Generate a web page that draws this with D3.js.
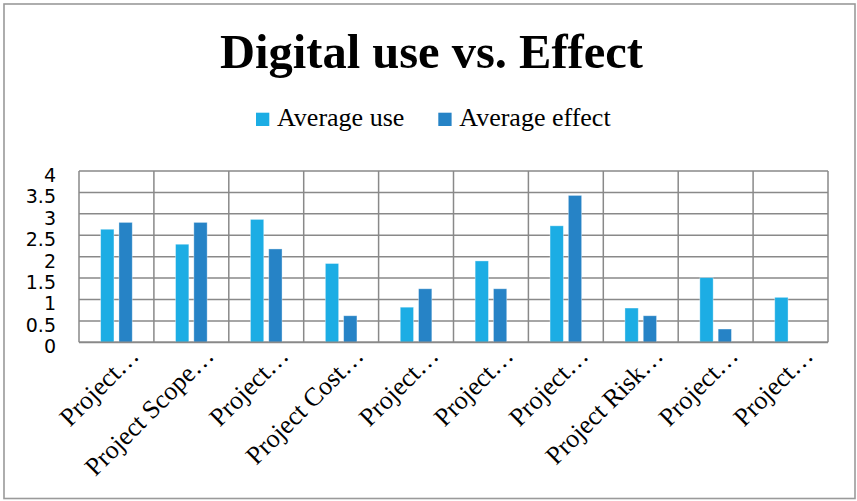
<!DOCTYPE html>
<html>
<head>
<meta charset="utf-8">
<script src="https://cdn.jsdelivr.net/npm/d3@7"></script>
<style>
  html, body { margin: 0; padding: 0; background: #fff; }
  svg { display: block; }
</style>
</head>
<body>
<svg id="chart" width="857" height="501"></svg>
<script>
// Category labels along the x axis (as shown, truncated)
const categories = [
  "Project…", "Project Scope…", "Project…", "Project Cost…", "Project…",
  "Project…", "Project…", "Project Risk…", "Project…", "Project…"
];
// Series
const seriesNames = ["Average use", "Average effect"];
const averageUse    = [2.64, 2.29, 2.87, 1.84, 0.82, 1.90, 2.72, 0.80, 1.51, 1.05];
const averageEffect = [2.80, 2.80, 2.18, 0.62, 1.25, 1.25, 3.43, 0.62, 0.31, 0];
const seriesColors  = ["#1CADE4", "#2683C6"];
// Y axis ticks
const yTicks = [0, 0.5, 1, 1.5, 2, 2.5, 3, 3.5, 4];
const yTickLabels = ["0", "0.5", "1", "1.5", "2", "2.5", "3", "3.5", "4"];

const W = 857, H = 501;
const plot = { left: 79, right: 828, top: 171, bottom: 342.3 };

const svg = d3.select("#chart");

// chart frame
svg.append("rect")
  .attr("x", 4).attr("y", 4).attr("width", 851).attr("height", 494.5)
  .attr("fill", "#fff").attr("stroke", "#9a9a9a").attr("stroke-width", 1.6);

// title
svg.append("text")
  .attr("x", 431.5).attr("y", 68)
  .attr("text-anchor", "middle")
  .attr("font-family", "'Liberation Serif', 'Times New Roman', serif")
  .attr("font-weight", "bold")
  .attr("font-size", 48.5)
  .attr("fill", "#000")
  .text("Digital use vs. Effect");

// legend
const legendItems = [
  { name: seriesNames[0], color: seriesColors[0], x: 256 },
  { name: seriesNames[1], color: seriesColors[1], x: 438.3 }
];
const lg = svg.append("g");
legendItems.forEach(it => {
  lg.append("rect")
    .attr("x", it.x).attr("y", 112.7).attr("width", 13.3).attr("height", 13.3)
    .attr("fill", it.color);
  lg.append("text")
    .attr("x", it.x + 21).attr("y", 126)
    .attr("font-family", "'Liberation Serif', 'Times New Roman', serif")
    .attr("font-size", 26)
    .attr("fill", "#000")
    .text(it.name);
});

// scales
const idx = categories.map((_, i) => i);
const x0 = d3.scaleBand().domain(idx).range([plot.left, plot.right]).paddingInner(0).paddingOuter(0);
const bw = x0.bandwidth();
const groupW = 31.6;
const x1 = d3.scaleBand().domain([0, 1])
  .range([bw / 2 - groupW / 2, bw / 2 + groupW / 2])
  .paddingInner(0.273).paddingOuter(0);
const y = d3.scaleLinear().domain([0, 4]).range([plot.bottom, plot.top]);

// horizontal gridlines
const grid = svg.append("g");
grid.selectAll("line.h").data(yTicks).join("line")
  .attr("class", "h")
  .attr("x1", plot.left).attr("x2", plot.right)
  .attr("y1", d => y(d)).attr("y2", d => y(d))
  .attr("stroke", "#898989").attr("stroke-width", 1.5);

// vertical gridlines at category boundaries
const bounds = idx.map(i => x0(i)).concat([plot.right]);
grid.selectAll("line.v").data(bounds).join("line")
  .attr("class", "v")
  .attr("x1", d => d).attr("x2", d => d)
  .attr("y1", plot.top).attr("y2", plot.bottom)
  .attr("stroke", "#898989").attr("stroke-width", 1.5);

// bars
const rows = idx.map(i => ({ i, vals: [averageUse[i], averageEffect[i]] }));
const groups = svg.append("g").selectAll("g").data(rows).join("g")
  .attr("transform", d => `translate(${x0(d.i)},0)`);
groups.selectAll("rect")
  .data(d => d.vals.map((v, s) => ({ v, s })).filter(e => e.v > 0))
  .join("rect")
  .attr("x", e => x1(e.s))
  .attr("width", x1.bandwidth())
  .attr("y", e => y(e.v))
  .attr("height", e => y(0) - y(e.v))
  .attr("fill", e => seriesColors[e.s])
  .attr("stroke", "#ffffff").attr("stroke-opacity", 0.45).attr("stroke-width", 0.8);

// bottom axis line
svg.append("line")
  .attr("x1", plot.left).attr("x2", plot.right)
  .attr("y1", plot.bottom).attr("y2", plot.bottom)
  .attr("stroke", "#898989").attr("stroke-width", 1.8);

// y axis labels
const yAxis = d3.axisLeft(y).tickValues(yTicks)
  .tickFormat((d, i) => yTickLabels[i]).tickSize(0).tickPadding(0);
const yg = svg.append("g").attr("transform", "translate(56,0)").call(yAxis);
yg.select(".domain").remove();
yg.selectAll("text")
  .attr("font-family", "'DejaVu Sans', sans-serif")
  .attr("font-size", 19)
  .attr("fill", "#000")
  .attr("dy", "0.55em");

// x axis labels, rotated
const xAxis = d3.axisBottom(x0).tickFormat(i => categories[i]).tickSize(0).tickPadding(0);
const xg = svg.append("g").attr("transform", `translate(0,${plot.bottom})`).call(xAxis);
xg.select(".domain").remove();
xg.selectAll(".tick text")
  .attr("font-family", "'Liberation Serif', 'Times New Roman', serif")
  .attr("font-size", 26)
  .attr("fill", "#000")
  .attr("text-anchor", "end")
  .attr("dy", null)
  .attr("y", 0)
  .attr("transform", "translate(24,15) rotate(-45)");
</script>
</body>
</html>
